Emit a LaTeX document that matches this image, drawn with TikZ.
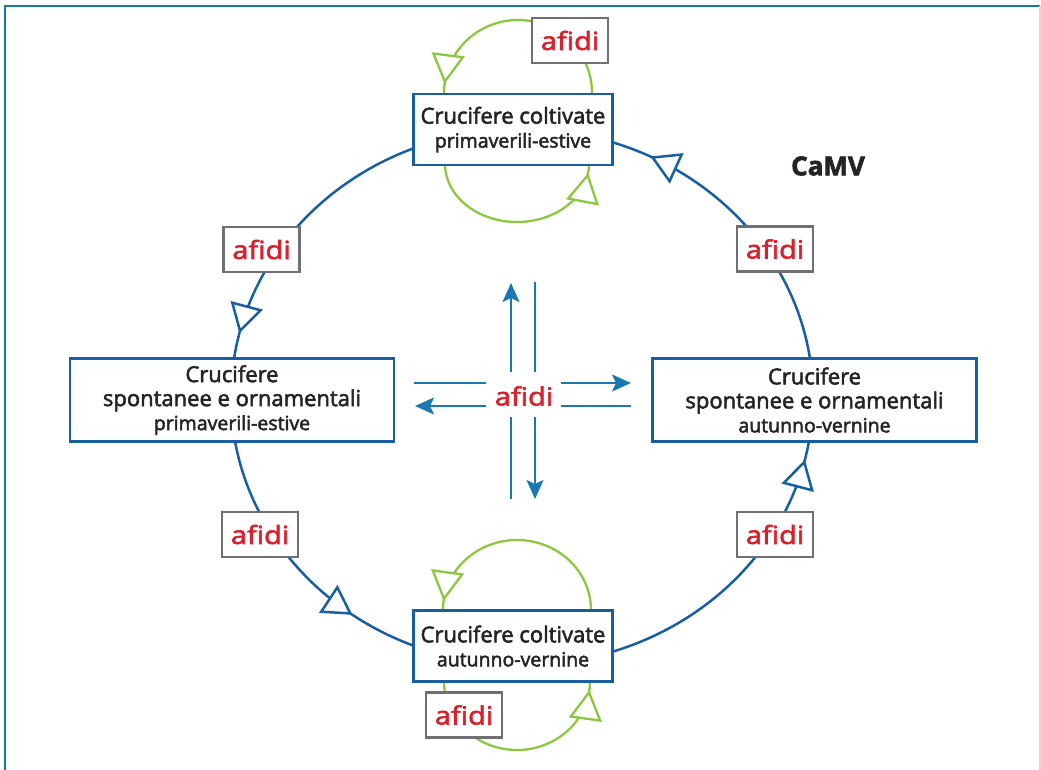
\documentclass[tikz,border=0pt]{standalone}
\usepackage{fontspec}
\setmainfont[Ligatures=NoCommon, FakeBold=2.5]{Open Sans}
\newfontfamily\afidiface[Ligatures=NoCommon, FakeStretch=1.16, FakeBold=2.5]{Open Sans}
\usetikzlibrary{arrows.meta,decorations.markings,calc}

\definecolor{ringblue}{RGB}{24,94,163}
\definecolor{hubblue}{RGB}{28,120,178}
\definecolor{loopgreen}{RGB}{141,198,63}
\definecolor{afidired}{RGB}{218,32,44}
\definecolor{taggrey}{RGB}{112,112,114}
\definecolor{inkgrey}{RGB}{38,35,36}
\definecolor{frameteal}{RGB}{18,124,148}
\definecolor{framepale}{RGB}{196,224,236}

\newcommand\hostbig{\fontsize{22}{24}\selectfont}
\newcommand\hostsmall{\fontsize{19.5}{24}\selectfont}
\newcommand\afidifont{\afidiface\fontsize{25}{25}\selectfont}

\tikzset{
  host/.style={draw=ringblue, line width=2.5pt, fill=white, inner sep=0pt,
    align=center, text=inkgrey, font=\hostbig},
  hostnarrow/.style={host, minimum width=199pt, minimum height=71pt},
  hostwide/.style={host, minimum width=324pt, minimum height=83pt},
  afidibox/.style={draw=taggrey, line width=2.3pt, fill=white, inner sep=0pt,
    minimum width=76pt, minimum height=45pt, text=afidired, font=\afidifont},
  cycleline/.style={draw=ringblue, line width=2.5pt},
  ringtip/.style={postaction={decorate}, decoration={markings,
    mark=at position #1 with {\arrow{Triangle[length=29pt,width=33pt,fill=white]}}}},
  greenloop/.style={draw=loopgreen, line width=2.3pt, postaction={decorate},
    decoration={markings, mark=at position -9pt with
      {\arrow{Triangle[length=30pt,width=33pt,fill=white]}}}},
  hubline/.style={draw=hubblue, line width=2pt},
  hubarrow/.style={hubline, -{Stealth[length=19pt,width=17pt,inset=4pt]}},
}

\begin{document}
\begin{tikzpicture}[x=1pt,y=-1pt]
\useasboundingbox (0,0) rectangle (1041,769);

% frame
\draw[frameteal, line width=2pt] (5,780) -- (5,6) -- (1040,6);
\draw[framepale, line width=1.5pt] (1040,6) -- (1040,780);

% points where the ring meets the host boxes
\coordinate (ringC) at (522,397);
\coordinate (tOut) at ($(ringC)+(248:291 and 268)$);
\coordinate (lOut) at ($(ringC)+(170.5:291 and 268)$);
\coordinate (bOut) at ($(ringC)+(71.8:291 and 268)$);
\coordinate (rOut) at ($(ringC)+(-8.37:291 and 268)$);

% the transmission ring (counter-clockwise)
\draw[cycleline, ringtip=0.91] (tOut) arc[start angle=248, end angle=188.2, x radius=291, y radius=268];
\draw[cycleline, ringtip=0.76] (lOut) arc[start angle=170.5, end angle=112, x radius=291, y radius=268];
\draw[cycleline, ringtip=0.94] (bOut) arc[start angle=71.8, end angle=9.67, x radius=291, y radius=268];
\draw[cycleline, ringtip=0.87] (rOut) arc[start angle=-8.37, end angle=-71.8, x radius=291, y radius=268];

% green loops on the cultivated hosts
\coordinate (tLoopA) at (592,93);
\coordinate (tLoopB) at (445,164);
\coordinate (bLoopA) at (591,610);
\coordinate (bLoopB) at (444,681);
\draw[greenloop] (tLoopA) arc[start angle=0, end angle=-180, x radius=74, y radius=73];
\draw[greenloop] (tLoopB) arc[start angle=180, end angle=0, x radius=72, y radius=58];
\draw[greenloop] (bLoopA) arc[start angle=0, end angle=-180, x radius=74, y radius=70];
\draw[greenloop] (bLoopB) arc[start angle=180, end angle=0, x radius=73, y radius=69];

% hosts
\node[hostnarrow] (top) at (513,129.5) {Crucifere coltivate\\\hostsmall primaverili-estive};
\node[hostnarrow] (bottom) at (513,646) {Crucifere coltivate\\\hostsmall autunno-vernine};
\node[hostwide] (left) at (232,400) {Crucifere\\spontanee e ornamentali\\\hostsmall primaverili-estive};
\node[hostwide] (right) at (814.5,400) {Crucifere\\spontanee e ornamentali\\\hostsmall autunno-vernine};

% vectors
\node[afidibox] (aTop) at (570,40.5) {afidi};
\node[afidibox] (aUL) at (261.5,249.5) {afidi};
\node[afidibox] (aUR) at (775,249) {afidi};
\node[afidibox] (aLL) at (260,534.5) {afidi};
\node[afidibox] (aLR) at (775,534.5) {afidi};
\node[afidibox] (aBot) at (464,715) {afidi};

\node[font=\bfseries\fontsize{26}{26}\selectfont, text=inkgrey] (virus) at (828,166) {CaMV};

% central exchange
\node[text=afidired, font=\afidifont] (hub) at (524,396) {afidi};
\coordinate (nUa) at (511,372); \coordinate (nUb) at (511,283);
\coordinate (nVa) at (535,372); \coordinate (nVb) at (535,282);
\coordinate (sUa) at (511,417); \coordinate (sUb) at (511,499);
\coordinate (sVa) at (535,417); \coordinate (sVb) at (535,499);
\coordinate (wHa) at (486,383); \coordinate (wHb) at (414,383);
\coordinate (wLa) at (486,406); \coordinate (wLb) at (415,406);
\coordinate (eHa) at (561,383); \coordinate (eHb) at (631,383);
\coordinate (eLa) at (561,406); \coordinate (eLb) at (631,406);
\draw[hubarrow] (nUa) -- (nUb);
\draw[hubline] (nVa) -- (nVb);
\draw[hubline] (sUa) -- (sUb);
\draw[hubarrow] (sVa) -- (sVb);
\draw[hubline] (wHa) -- (wHb);
\draw[hubarrow] (wLa) -- (wLb);
\draw[hubarrow] (eHa) -- (eHb);
\draw[hubline] (eLa) -- (eLb);
\end{tikzpicture}
\end{document}
